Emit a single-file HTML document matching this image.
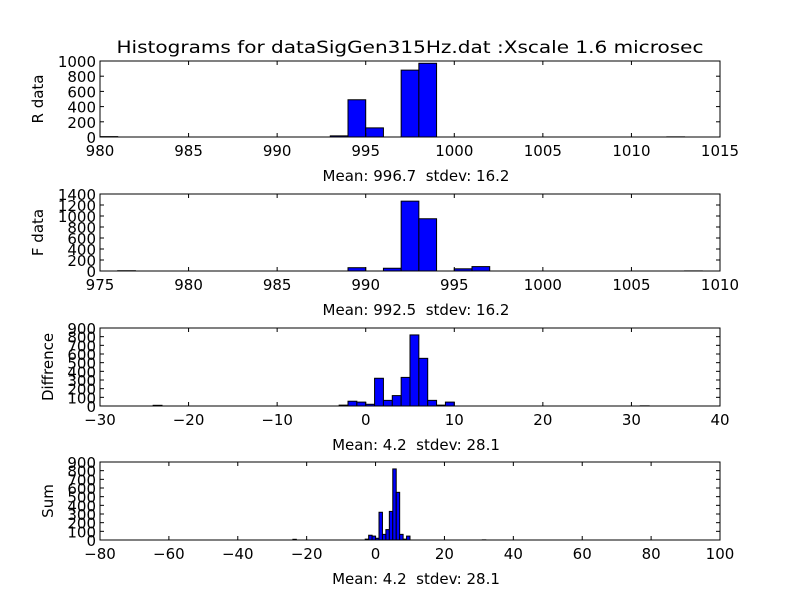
<!DOCTYPE html>
<html><head><meta charset="utf-8"><style>
body{margin:0;background:#fff}
svg text{font-family:"DejaVu Sans","Liberation Sans",sans-serif;fill:#000;white-space:pre}
</style></head><body>
<svg id="c" width="800" height="600" xmlns="http://www.w3.org/2000/svg">
<rect width="800" height="600" fill="#fff"/>
<text x="410" y="53" font-size="17" text-anchor="middle" textLength="587" lengthAdjust="spacingAndGlyphs">Histograms for dataSigGen315Hz.dat :Xscale 1.6 microsec</text>
</svg>
<script>
// Panel 1: R data
const rBinStarts = [980, 993, 994, 995, 997, 998, 1012];
const rCounts = [5, 15, 490, 120, 880, 970, 2];
const rXTicks = [980, 985, 990, 995, 1000, 1005, 1010, 1015];
const rYTicks = [0, 200, 400, 600, 800, 1000];
// Panel 2: F data
const fBinStarts = [976, 989, 991, 992, 993, 995, 996, 1008];
const fCounts = [5, 60, 50, 1270, 950, 40, 80, 2];
const fXTicks = [975, 980, 985, 990, 995, 1000, 1005, 1010];
const fYTicks = [0, 200, 400, 600, 800, 1000, 1200, 1400];
// Panel 3 & 4: difference / sum
const dBinStarts = [-24, -3, -2, -1, 0, 1, 2, 3, 4, 5, 6, 7, 8, 9, 31];
const dCounts = [8, 10, 55, 45, 20, 320, 65, 120, 330, 820, 550, 65, 10, 45, 2];
const dXTicks = [-30, -20, -10, 0, 10, 20, 30, 40];
const sXTicks = [-80, -60, -40, -20, 0, 20, 40, 60, 80, 100];
const dYTicks = [0, 100, 200, 300, 400, 500, 600, 700, 800, 900];
const captions = ["Mean: 996.7  stdev: 16.2", "Mean: 992.5  stdev: 16.2", "Mean: 4.2  stdev: 28.1", "Mean: 4.2  stdev: 28.1"];

const NS = "http://www.w3.org/2000/svg";
const svg = document.getElementById('c');
function mk(tag, attrs, parent) {
  const e = document.createElementNS(NS, tag);
  for (const k in attrs) e.setAttribute(k, attrs[k]);
  (parent || svg).appendChild(e);
  return e;
}
const L = 100, R = 720;
function panel(id, top, bot, xmin, xmax, ymax, starts, counts, xt, yt, ylabel, caption) {
  const g = mk('g', {});
  
  
  const xs = v => L + (v - xmin) / (xmax - xmin) * (R - L);
  const ys = v => bot - v / ymax * (bot - top);
  starts.forEach((s, i) => {
    const r = mk('rect', {x: xs(s), y: ys(counts[i]), width: xs(s + 1) - xs(s), height: bot - ys(counts[i]), fill: '#0000ff', stroke: '#000', 'stroke-width': 1}, g);
    
    
  });
  const fr = mk('rect', {x: L, y: top, width: R - L, height: bot - top, fill: 'none', stroke: '#000', 'stroke-width': 1}, g);
  
  
  xt.forEach(v => {
    const x = xs(v);
    mk('line', {x1: x, x2: x, y1: bot, y2: bot - 4, stroke: '#000'}, g);
    mk('line', {x1: x, x2: x, y1: top, y2: top + 4, stroke: '#000'}, g);
    const t = mk('text', {x: x, y: bot + 19, 'font-size': 15, 'text-anchor': 'middle'}, g);
    t.textContent = v < 0 ? '\u2212' + (-v) : String(v);
    
    
  });
  yt.forEach(v => {
    const y = ys(v);
    mk('line', {x1: L, x2: L + 4, y1: y, y2: y, stroke: '#000'}, g);
    mk('line', {x1: R, x2: R - 4, y1: y, y2: y, stroke: '#000'}, g);
    const t = mk('text', {x: L - 4, y: y + 6, 'font-size': 15, 'text-anchor': 'end'}, g);
    t.textContent = String(v);
    
    
  });
  const yl = mk('text', {x: 0, y: 0, 'font-size': 15, 'text-anchor': 'middle', transform: `translate(${ylabel.x},${(top + bot) / 2}) rotate(-90)`}, g);
  yl.textContent = ylabel.t;
  
  
  const c = mk('text', {x: 416, y: bot + 44, 'font-size': 15, 'text-anchor': 'middle'}, g);
  c.textContent = caption;
  
  
}
panel('r-data', 61, 137, 980, 1015, 1000, rBinStarts, rCounts, rXTicks, rYTicks, {t: 'R data', x: 43}, captions[0]);
panel('f-data', 194, 271, 975, 1010, 1400, fBinStarts, fCounts, fXTicks, fYTicks, {t: 'F data', x: 43}, captions[1]);
panel('diffrence', 328, 406, -30, 40, 900, dBinStarts, dCounts, dXTicks, dYTicks, {t: 'Diffrence', x: 53}, captions[2]);
panel('sum', 462, 540, -80, 100, 900, dBinStarts, dCounts, sXTicks, dYTicks, {t: 'Sum', x: 53}, captions[3]);
</script>
</body></html>
